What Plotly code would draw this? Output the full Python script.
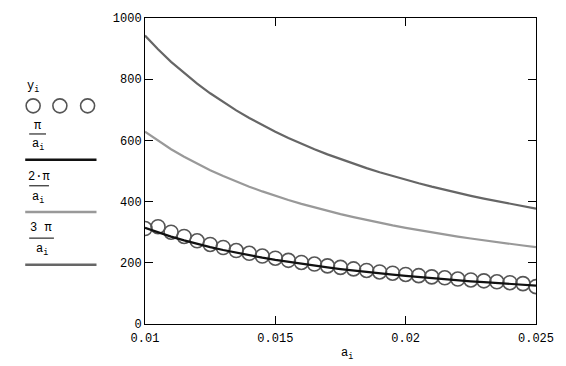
import plotly.graph_objects as go

# ---- data ----
a_i = [0.0100, 0.0105, 0.0110, 0.0115, 0.0120, 0.0125, 0.0130, 0.0135, 0.0140, 0.0145,
       0.0150, 0.0155, 0.0160, 0.0165, 0.0170, 0.0175, 0.0180, 0.0185, 0.0190, 0.0195,
       0.0200, 0.0205, 0.0210, 0.0215, 0.0220, 0.0225, 0.0230, 0.0235, 0.0240, 0.0245, 0.0250]
y_i = [312, 318, 300, 286, 272, 260, 250, 240, 231, 222,
       215, 208, 201, 196, 190, 185, 180, 175, 170, 166,
       162, 158, 154, 151, 147, 144, 141, 138, 135, 132, 122]
pi_over_a = [314.2, 299.2, 285.6, 273.2, 261.8, 251.3, 241.7, 232.7, 224.4, 216.7,
             209.4, 202.7, 196.3, 190.4, 184.8, 179.5, 174.5, 169.8, 165.3, 161.1,
             157.1, 153.2, 149.6, 146.1, 142.8, 139.6, 136.6, 133.7, 130.9, 128.2, 125.7]
two_pi_over_a = [628.3, 598.4, 571.2, 546.4, 523.6, 502.7, 483.3, 465.4, 448.8, 433.3,
                 418.9, 405.4, 392.7, 380.8, 369.6, 359.0, 349.1, 339.6, 330.7, 322.2,
                 314.2, 306.5, 299.2, 292.2, 285.6, 279.3, 273.2, 267.4, 261.8, 256.5, 251.3]
three_pi_over_a = [942.5, 897.6, 856.8, 819.6, 785.4, 754.0, 725.0, 698.1, 673.2, 650.0,
                   628.3, 608.1, 589.0, 571.2, 554.4, 538.6, 523.6, 509.4, 496.0, 483.3,
                   471.2, 459.8, 448.8, 438.4, 428.4, 418.9, 409.8, 401.1, 392.7, 384.7, 377.0]
x_ticks = [0.01, 0.015, 0.02, 0.025]
x_tick_labels = ["0.01", "0.015", "0.02", "0.025"]
y_ticks = [0, 200, 400, 600, 800, 1000]
y_tick_labels = ["0", "200", "400", "600", "800", "1000"]

FONT = "Liberation Mono"
W, H = 566, 366
L, R, T, B = 145, 26, 14, 42
PW, PH = W - L - R, H - T - B

def px(x):
    return (x - L) / PW

def py(y):
    return (H - B - y) / PH

fig = go.Figure()
fig.add_trace(go.Scatter(x=a_i, y=three_pi_over_a, mode="lines",
                         line=dict(color="#666666", width=2.2), name="3 π/a"))
fig.add_trace(go.Scatter(x=a_i, y=two_pi_over_a, mode="lines",
                         line=dict(color="#999999", width=2.2), name="2·π/a"))
fig.add_trace(go.Scatter(x=a_i, y=y_i, mode="markers",
                         marker=dict(symbol="circle-open", size=14, color="#555555",
                                     line=dict(width=1.6, color="#555555")), name="y"))
fig.add_trace(go.Scatter(x=a_i, y=pi_over_a, mode="lines",
                         line=dict(color="#111111", width=2.2), name="π/a"))

shapes = []
annotations = []

def text(x, y, s, size=12):
    annotations.append(dict(x=px(x), y=py(y), xref="paper", yref="paper", text=s,
                            showarrow=False, xanchor="center", yanchor="middle",
                            font=dict(family=FONT, size=size, color="black")))

def hline(x0, x1, y, color, width):
    shapes.append(dict(type="line", xref="paper", yref="paper",
                       x0=px(x0), x1=px(x1), y0=py(y), y1=py(y),
                       line=dict(color=color, width=width)))

# legend (Mathcad style) on the left
text(32, 84, "y<sub>i</sub>", 12)
for cx in (32, 59, 87):
    shapes.append(dict(type="circle", xref="paper", yref="paper",
                       xsizemode="pixel", ysizemode="pixel",
                       xanchor=px(cx), yanchor=py(103),
                       x0=-7, x1=7, y0=-7, y1=7,
                       line=dict(color="#555555", width=1.6)))
text(36, 123, "π", 12)
hline(28, 45, 131.5, "black", 1)
text(37, 143, "a<sub>i</sub>", 12)
hline(24, 96, 157.5, "#111111", 2.5)
text(38, 175, "2·π", 12)
hline(28, 48, 184, "black", 1)
text(37, 196, "a<sub>i</sub>", 12)
hline(24, 96, 210.5, "#999999", 2.5)
text(40, 227, "3 π", 12)
hline(28, 53, 237, "black", 1)
text(41, 249, "a<sub>i</sub>", 12)
hline(24, 96, 264, "#666666", 2.5)

# x-axis title
text(349, 354, "a<sub>i</sub>", 12)

fig.update_layout(
    width=W, height=H,
    margin=dict(l=L, r=R, t=T, b=B),
    paper_bgcolor="white", plot_bgcolor="white",
    showlegend=False,
    font=dict(family=FONT, size=12, color="black"),
    shapes=shapes, annotations=annotations,
    xaxis=dict(range=[0.01, 0.025], tickvals=x_ticks, ticktext=x_tick_labels,
               showgrid=False, zeroline=False, showline=True, linecolor="black",
               linewidth=1, mirror="ticks", ticks="inside", ticklen=8,
               tickcolor="black", tickfont=dict(family=FONT, size=12),
               ticklabelstandoff=3),
    yaxis=dict(range=[0, 1000], tickvals=y_ticks, ticktext=y_tick_labels,
               showgrid=False, zeroline=False, showline=True, linecolor="black",
               linewidth=1, mirror="ticks", ticks="inside", ticklen=8,
               tickcolor="black", tickfont=dict(family=FONT, size=12)),
)

fig.write_html("out.html", config={"displayModeBar": False},
               post_script="document.body.style.margin='0';document.body.style.overflow='hidden';")
